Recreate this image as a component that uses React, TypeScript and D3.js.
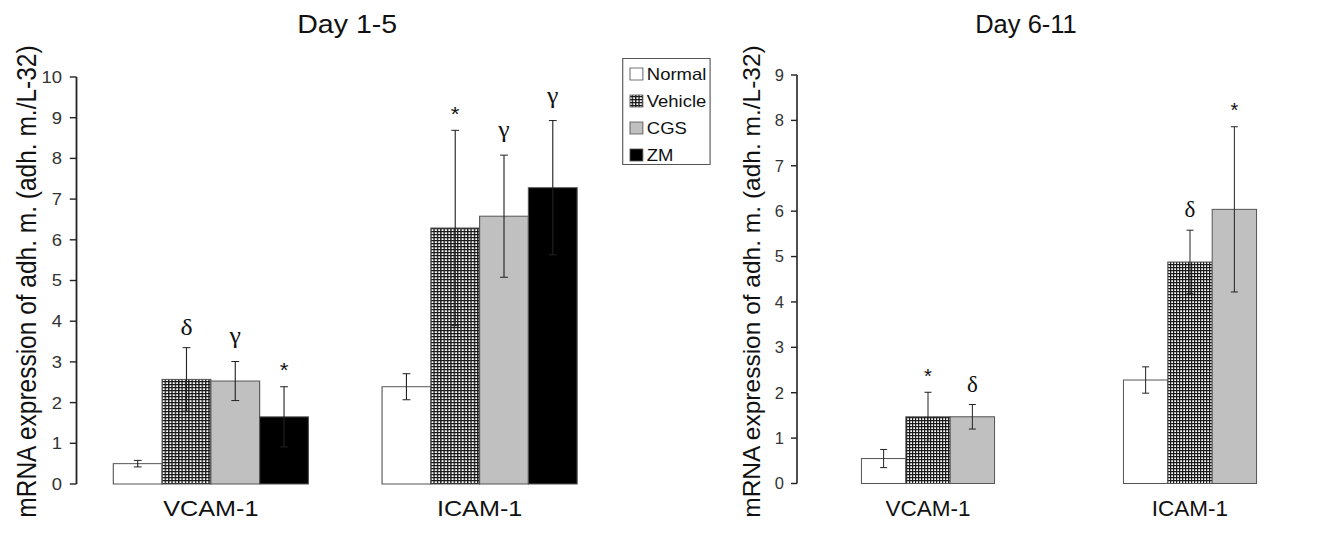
import React from "react";
import * as d3 from "d3";

const W = 1324;
const H = 534;

const categories = ["VCAM-1", "ICAM-1"];

// Day 1-5 panel
const early_series = ["Normal", "Vehicle", "CGS", "ZM"];
const early_normal = [0.5, 2.39];
const early_vehicle = [2.57, 6.29];
const early_cgs = [2.53, 6.58];
const early_zm = [1.65, 7.28];
const early_normal_err = [0.08, 0.32];
const early_vehicle_err = [0.78, 2.4];
const early_cgs_err = [0.48, 1.5];
const early_zm_err = [0.74, 1.65];
const early_marks = [["", ""], ["δ", "*"], ["γ", "γ"], ["*", "γ"]];
const early_ticks = [0, 1, 2, 3, 4, 5, 6, 7, 8, 9, 10];

// Day 6-11 panel
const late_series = ["Normal", "Vehicle", "CGS"];
const late_normal = [0.55, 2.28];
const late_vehicle = [1.47, 4.88];
const late_cgs = [1.47, 6.04];
const late_normal_err = [0.2, 0.29];
const late_vehicle_err = [0.54, 0.7];
const late_cgs_err = [0.27, 1.82];
const late_marks = [["", ""], ["*", "δ"], ["δ", "*"]];
const late_ticks = [0, 1, 2, 3, 4, 5, 6, 7, 8, 9];

const legendNames = ["Normal", "Vehicle", "CGS", "ZM"];

const fills: Record<string, string> = {
  Normal: "#ffffff",
  Vehicle: "url(#hatch)",
  CGS: "#c0c0c0",
  ZM: "#000000",
};

const sans = "'Liberation Sans', Arial, sans-serif";
const serif = "'Liberation Serif', 'Times New Roman', serif";
const ylabel = "mRNA expression of adh. m. (adh. m./L-32)";

// baseline shift so the glyph's visual centre sits at the anchor
const markStyle: Record<string, { font: string; size: number; dy: number }> = {
  "δ": { font: serif, size: 23, dy: 8 },
  "γ": { font: serif, size: 23, dy: 3 },
  "*": { font: sans, size: 20, dy: 11.5 },
};

type PanelProps = {
  title: string;
  series: string[];
  means: number[][];
  errs: number[][];
  marks: string[][];
  ticks: number[];
  yMax: number;
  yBottom: number;
  yTop: number;
  axisX: number;
  rightX: number;
  padIn: number;
  padOut: number;
  titleX: number;
  labelX: number;
  sx: number;
  legend?: boolean;
};

function Panel(p: PanelProps) {
  const y = d3.scaleLinear().domain([0, p.yMax]).range([p.yBottom, p.yTop]);
  const x0 = d3
    .scaleBand()
    .domain(categories)
    .range([p.axisX, p.rightX])
    .paddingInner(p.padIn)
    .paddingOuter(p.padOut);
  const x1 = d3.scaleBand().domain(p.series).range([0, x0.bandwidth()]);

  return (
    <g transform={`scale(${p.sx},1)`}>
      <text x={p.titleX} y={33} textAnchor="middle" fontFamily={sans} fontSize={25.5} fill="#111">
        {p.title}
      </text>
      <text
        transform={`translate(${p.labelX},281.5) rotate(-90)`}
        textAnchor="middle"
        fontFamily={sans}
        fontSize={24.5}
        fill="#111"
      >
        {ylabel}
      </text>

      {/* y axis */}
      <line x1={p.axisX} x2={p.axisX} y1={y(p.yMax)} y2={y(0)} stroke="#222" strokeWidth={1.6} />
      {p.ticks.map((t) => (
        <g key={t}>
          <line x1={p.axisX - 6} x2={p.axisX} y1={y(t)} y2={y(t)} stroke="#222" strokeWidth={1.4} />
          <text
            x={p.axisX - 13}
            y={y(t)}
            dy="0.36em"
            textAnchor="end"
            fontFamily={sans}
            fontSize={16.5}
            fill="#333"
          >
            {t}
          </text>
        </g>
      ))}

      {/* bars */}
      {categories.map((c, ci) =>
        p.series.map((s, si) => {
          const v = p.means[si][ci];
          const bx = (x0(c) as number) + (x1(s) as number);
          return (
            <rect
              key={c + s}
              x={bx}
              y={y(v)}
              width={x1.bandwidth()}
              height={y(0) - y(v)}
              fill={fills[s]}
              stroke="#555"
              strokeWidth={1}
            />
          );
        })
      )}

      {/* error bars and significance marks */}
      {categories.map((c, ci) =>
        p.series.map((s, si) => {
          const v = p.means[si][ci];
          const e = p.errs[si][ci];
          const cx = (x0(c) as number) + (x1(s) as number) + x1.bandwidth() / 2;
          const top = y(v + e);
          const bot = y(v - e);
          const m = p.marks[si][ci];
          const ms = markStyle[m];
          return (
            <g key={"e" + c + s}>
              <line x1={cx} x2={cx} y1={top} y2={bot} stroke="#222" strokeWidth={1} />
              <line x1={cx - 3.5} x2={cx + 3.5} y1={top} y2={top} stroke="#222" strokeWidth={1} />
              <line x1={cx - 3.5} x2={cx + 3.5} y1={bot} y2={bot} stroke="#222" strokeWidth={1} />
              {m && ms ? (
                <text
                  x={cx}
                  y={top - 21 + ms.dy}
                  textAnchor="middle"
                  fontFamily={ms.font}
                  fontSize={ms.size}
                  fill="#111"
                >
                  {m}
                </text>
              ) : null}
            </g>
          );
        })
      )}

      {/* category labels */}
      {categories.map((c) => (
        <text
          key={"l" + c}
          x={(x0(c) as number) + x0.bandwidth() / 2}
          y={516}
          textAnchor="middle"
          fontFamily={sans}
          fontSize={22.5}
          fill="#111"
        >
          {c}
        </text>
      ))}

      {p.legend ? (
        <g>
          <rect x={556} y={58.5} width={78} height={106} fill="#fff" stroke="#555" strokeWidth={1} />
          {legendNames.map((n, i) => {
            const cy = 74 + i * 27;
            return (
              <g key={n}>
                <rect x={562.5} y={cy - 6} width={11.5} height={12} fill={fills[n]} stroke="#555" strokeWidth={0.8} />
                <text x={577.5} y={cy} dy="0.36em" fontFamily={sans} fontSize={16.5} fill="#111">
                  {n}
                </text>
              </g>
            );
          })}
        </g>
      ) : null}
    </g>
  );
}

export default function App() {
  return (
    <svg width={W} height={H} style={{ position: "absolute", left: 0, top: 0, background: "#fff" }}>
      <defs>
        <pattern id="hatch" patternUnits="userSpaceOnUse" width={3} height={3}>
          <rect width={3} height={3} fill="#fff" />
          <path d="M0 0.6 H3 M0.6 0 V3" stroke="#1a1a1a" strokeWidth={1.25} />
        </pattern>
      </defs>
      <rect width={W} height={H} fill="#fff" />
      <Panel
        title="Day 1-5"
        series={early_series}
        means={[early_normal, early_vehicle, early_cgs, early_zm]}
        errs={[early_normal_err, early_vehicle_err, early_cgs_err, early_zm_err]}
        marks={early_marks}
        ticks={early_ticks}
        yMax={10}
        yBottom={484}
        yTop={77}
        axisX={68.3}
        rightX={548.2}
        padIn={0.274}
        padOut={0.137}
        titleX={310}
        labelX={32}
        sx={1.12}
        legend
      />
      <Panel
        title="Day 6-11"
        series={late_series}
        means={[late_normal, late_vehicle, late_cgs]}
        errs={[late_normal_err, late_vehicle_err, late_cgs_err]}
        marks={late_marks}
        ticks={late_ticks}
        yMax={9}
        yBottom={483.5}
        yTop={75}
        axisX={797}
        rightX={1321}
        padIn={0.492}
        padOut={0.246}
        titleX={1026}
        labelX={760}
        sx={1}
      />
    </svg>
  );
}
